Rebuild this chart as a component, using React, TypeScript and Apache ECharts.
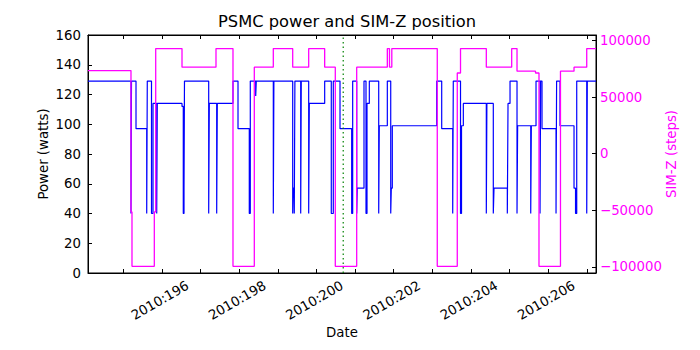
import React, { useEffect, useRef } from "react";
import * as echarts from "echarts";

const titleText = "PSMC power and SIM-Z position";
const xMin = 193.086;
const xMax = 206.239;
const dayTicks = [194, 195, 196, 197, 198, 199, 200, 201, 202, 203, 204, 205, 206];
const dayLabels = [196, 198, 200, 202, 204, 206];
const simzTicks = [-100000, -50000, 0, 50000, 100000];

// [day of year 2010, power in watts]
const powerSteps = [
  [193.086, 129], [194.199, 40], [194.212, 129], [194.329, 97], [194.606, 40], [194.621, 129],
  [194.730, 40], [194.769, 114], [194.865, 40], [194.880, 114], [195.520, 112], [195.553, 40],
  [195.572, 57], [195.584, 129], [196.211, 40], [196.227, 114], [196.418, 40], [196.434, 114],
  [196.840, 129], [196.970, 97], [197.262, 40], [197.288, 129], [197.428, 119], [197.443, 129],
  [197.884, 40], [197.899, 129], [198.386, 40], [198.401, 57], [198.427, 40], [198.443, 129],
  [198.593, 40], [198.608, 129], [198.800, 40], [198.816, 114], [199.214, 129], [199.385, 40],
  [199.437, 129], [199.611, 97], [199.913, 40], [199.939, 129], [200.043, 40], [200.058, 57],
  [200.232, 129], [200.284, 40], [200.310, 114], [200.370, 129], [200.613, 40], [200.628, 99],
  [200.836, 129], [200.924, 40], [200.939, 57], [200.965, 99], [202.115, 129], [202.244, 97],
  [202.529, 40], [202.544, 129], [202.731, 40], [202.757, 99], [202.804, 114], [203.399, 40],
  [203.414, 114], [203.580, 40], [203.598, 57], [203.943, 40], [203.961, 114], [204.013, 129],
  [204.194, 40], [204.210, 99], [204.549, 40], [204.565, 99], [204.686, 129], [204.790, 40],
  [204.805, 129], [204.841, 97], [205.204, 40], [205.219, 129], [205.307, 99], [205.670, 57],
  [205.709, 40], [205.740, 129], [205.999, 40], [206.014, 129], [206.239, 129],
];

// [day of year 2010, SIM-Z steps]
const simzSteps = [
  [193.086, 73500], [194.199, -51500], [194.225, -99600], [194.803, -51500], [194.839, 93000],
  [195.520, 76500], [196.400, 93000], [196.840, -99600], [197.392, 76500], [197.884, 93000],
  [198.386, 76500], [198.800, 93000], [199.214, 76500], [199.489, -99600], [200.043, 76500],
  [200.836, 93000], [200.892, 76500], [200.952, 93000], [202.129, -99600], [202.647, 71400],
  [202.731, 93000], [203.399, 76500], [204.056, 93000], [204.194, 73000], [204.673, 71400],
  [204.763, -99600], [205.319, 73000], [205.670, 76500], [205.999, 93000], [206.239, 93000],
];

const markerDay = 199.694;
const markerLine = [[markerDay, 0], [markerDay, 160]];

const FONT = "DejaVu Sans";

export default function App() {
  const ref = useRef<HTMLDivElement>(null);
  useEffect(() => {
    document.body.style.margin = "0";
    const chart = echarts.init(ref.current!, null, { renderer: "svg" });
    const tickStyle = { inside: true, length: 4, lineStyle: { color: "#000", width: 1 } };
    chart.setOption({
      animation: false,
      backgroundColor: "#fff",
      title: {
        text: titleText,
        left: 342,
        top: 8,
        textAlign: "center",
        textStyle: { fontFamily: FONT, fontSize: 16.3, fontWeight: "normal", color: "#000" },
      },
      grid: {
        left: 88,
        right: 104,
        top: 35,
        height: 238,
        show: true,
        borderColor: "#000",
        borderWidth: 1,
        backgroundColor: "transparent",
      },
      xAxis: [
        {
          type: "value",
          min: xMin,
          max: xMax,
          position: "bottom",
          axisLine: { show: true, onZero: false, lineStyle: { color: "#000", width: 1 } },
          axisTick: { ...tickStyle, customValues: dayTicks },
          axisLabel: {
            customValues: dayLabels,
            formatter: (v: number) => "2010:" + Math.round(v),
            rotate: 30,
            margin: 4,
            padding: [0, 15, 0, 0],
            color: "#000",
            fontFamily: FONT,
            fontSize: 13.3,
          },
          splitLine: { show: false },
          name: "Date",
          nameLocation: "middle",
          nameGap: 53,
          nameMoveOverlap: false,
          nameTextStyle: { fontFamily: FONT, fontSize: 13.3, color: "#000" },
        },
        {
          type: "value",
          min: xMin,
          max: xMax,
          position: "top",
          axisLine: { show: true, onZero: false, lineStyle: { color: "#000", width: 1 } },
          axisTick: { ...tickStyle, customValues: dayTicks },
          axisLabel: { show: false },
          splitLine: { show: false },
        },
      ],
      yAxis: [
        {
          type: "value",
          min: 0,
          max: 160,
          interval: 20,
          position: "left",
          axisLine: { show: true, onZero: false, lineStyle: { color: "#000", width: 1 } },
          axisTick: tickStyle,
          axisLabel: { color: "#000", fontFamily: FONT, fontSize: 13.3, margin: 7 },
          splitLine: { show: false },
          name: "Power (watts)",
          nameLocation: "middle",
          nameRotate: 90,
          nameGap: 38,
          nameMoveOverlap: false,
          nameTextStyle: { fontFamily: FONT, fontSize: 13.3, color: "#000" },
        },
        {
          type: "value",
          min: -105500,
          max: 105000,
          position: "right",
          axisLine: { show: true, onZero: false, lineStyle: { color: "#000", width: 1 } },
          axisTick: { ...tickStyle, customValues: simzTicks },
          axisLabel: {
            customValues: simzTicks,
            formatter: (v: number) => String(v).replace("-", "\u2212"),
            color: "#ff00ff",
            fontFamily: FONT,
            fontSize: 13.3,
            margin: 4,
          },
          splitLine: { show: false },
          name: "SIM-Z (steps)",
          nameLocation: "middle",
          nameRotate: 90,
          nameGap: 69,
          nameMoveOverlap: false,
          nameTextStyle: { fontFamily: FONT, fontSize: 13.3, color: "#ff00ff" },
        },
      ],
      series: [
        {
          type: "line",
          name: "Power",
          xAxisIndex: 0,
          yAxisIndex: 0,
          step: "end",
          data: powerSteps,
          showSymbol: false,
          symbol: "none",
          lineStyle: { color: "#0000ff", width: 1.2 },
          z: 2,
        },
        {
          type: "line",
          name: "SIM-Z",
          xAxisIndex: 0,
          yAxisIndex: 1,
          step: "end",
          data: simzSteps,
          showSymbol: false,
          symbol: "none",
          lineStyle: { color: "#ff00ff", width: 1.3 },
          z: 3,
        },
        {
          type: "line",
          name: "marker",
          xAxisIndex: 0,
          yAxisIndex: 0,
          data: markerLine,
          showSymbol: false,
          symbol: "none",
          lineStyle: { color: "#008000", width: 1.2, type: [1.5, 3] },
          z: 4,
        },
      ],
    });
    return () => chart.dispose();
  }, []);
  return <div ref={ref} style={{ width: 700, height: 350 }} />;
}
